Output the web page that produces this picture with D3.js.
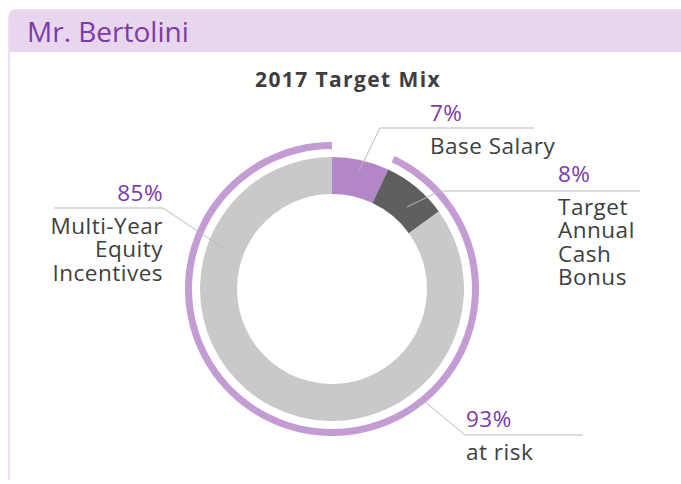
<!DOCTYPE html>
<html>
<head>
<meta charset="utf-8">
<script src="https://cdn.jsdelivr.net/npm/d3@7"></script>
<style>
  html, body { margin: 0; padding: 0; background: #fff; }
  svg { display: block; font-family: "Open Sans", Lato, sans-serif; }
</style>
</head>
<body>
<svg id="chart" width="681" height="484"></svg>
<script>
// Données du graphique
const titre = "Mr. Bertolini";
const sousTitre = "2017 Target Mix";
const categories = ["Base Salary", "Target Annual Cash Bonus", "Multi-Year Equity Incentives"];
const valeurs = [7, 8, 85];
const pourcentages = ["7%", "8%", "85%"];
const lignesLabels = [["Base Salary"], ["Target", "Annual", "Cash", "Bonus"], ["Multi-Year", "Equity", "Incentives"]];
const aRisque = 93;
const aRisqueLabel = ["93%", "at risk"];

const couleurs = ["#b386c8", "#5f5f62", "#c8c9cb"];
const violetTexte = "#7d3aa8";
const gris = "#3e3e40";
const grisLigne = "#b9b9bb";

const svg = d3.select("#chart");

// Cadre du panneau
svg.append("path")
    .attr("d", "M9,480 L9,18 Q9,10 17,10 L690,10 L690,480")
    .attr("fill", "#fff")
    .attr("stroke", "#ecdff1")
    .attr("stroke-width", 2);

svg.append("path")
    .attr("d", "M9,52 L9,18 Q9,10 17,10 L690,10 L690,52 Z")
    .attr("fill", "#e8d6ee");

svg.append("text")
    .attr("x", 27)
    .attr("y", 42)
    .style("fill", violetTexte)
    .style("font-size", "28px")
    .text(titre);

svg.append("text")
    .attr("x", 348)
    .attr("y", 87)
    .attr("text-anchor", "middle")
    .style("fill", gris)
    .style("font-size", "21px")
    .style("font-weight", "bold")
    .style("letter-spacing", "1.4px")
    .text(sousTitre);

// Anneau
const cx = 332, cy = 289;
const g = svg.append("g").attr("transform", `translate(${cx}, ${cy})`);

const pie = d3.pie().sort(null).value(d => d);
const arcs = pie(valeurs);
const arc = d3.arc().innerRadius(95).outerRadius(132);

g.selectAll(".part")
    .data(arcs)
    .enter().append("path")
    .attr("class", "part")
    .attr("d", arc)
    .attr("fill", (d, i) => couleurs[i]);

// Arc extérieur "at risk" (bonus + actions)
const debutRisque = 2 * Math.PI * (100 - aRisque) / 100;
g.append("path")
    .attr("d", d3.arc().innerRadius(140).outerRadius(147)({ startAngle: debutRisque, endAngle: 2 * Math.PI }))
    .attr("fill", "#c39cd4");

// Étiquettes
const polaire = (deg, r) => [r * Math.sin(deg * Math.PI / 180) + cx, -r * Math.cos(deg * Math.PI / 180) + cy];

const etiquettes = [
    { pct: pourcentages[0], lignes: lignesLabels[0], x: 430, y: 121, ancre: "start", ligne: [[534, 128], [380, 128], polaire(12.9, 121)] },
    { pct: pourcentages[1], lignes: lignesLabels[1], x: 558, y: 182, ancre: "start", ligne: [[640, 191], [440, 191], polaire(42.4, 111)] },
    { pct: pourcentages[2], lignes: lignesLabels[2], x: 163, y: 201, ancre: "end", ligne: [[54, 208], [163, 208], polaire(290.6, 116)] },
    { pct: aRisqueLabel[0], lignes: [aRisqueLabel[1]], x: 466, y: 427, ancre: "start", ligne: [[583, 435], [465, 435], polaire(140.5, 146)] }
];

svg.selectAll(".leader")
    .data(etiquettes)
    .enter().append("polyline")
    .attr("class", "leader")
    .attr("points", d => d.ligne.map(p => p.join(",")).join(" "))
    .attr("fill", "none")
    .attr("stroke", grisLigne)
    .attr("stroke-width", 1);

etiquettes.forEach(d => {
    svg.append("text")
        .attr("x", d.x)
        .attr("y", d.y)
        .attr("text-anchor", d.ancre)
        .style("fill", violetTexte)
        .style("font-size", "22.5px")
        .style("letter-spacing", "0.5px")
        .text(d.pct);
    // un seul texte par bloc, une ligne par tspan
    const t = svg.append("text")
        .attr("text-anchor", d.ancre)
        .style("fill", gris)
        .style("font-size", "22.5px")
        .style("letter-spacing", "0.5px");
    d.lignes.forEach((l, i) => {
        t.append("tspan")
            .attr("x", d.x)
            .attr("y", d.y + 33 + i * 23.3)
            .text(l);
    });
});
</script>
</body>
</html>
